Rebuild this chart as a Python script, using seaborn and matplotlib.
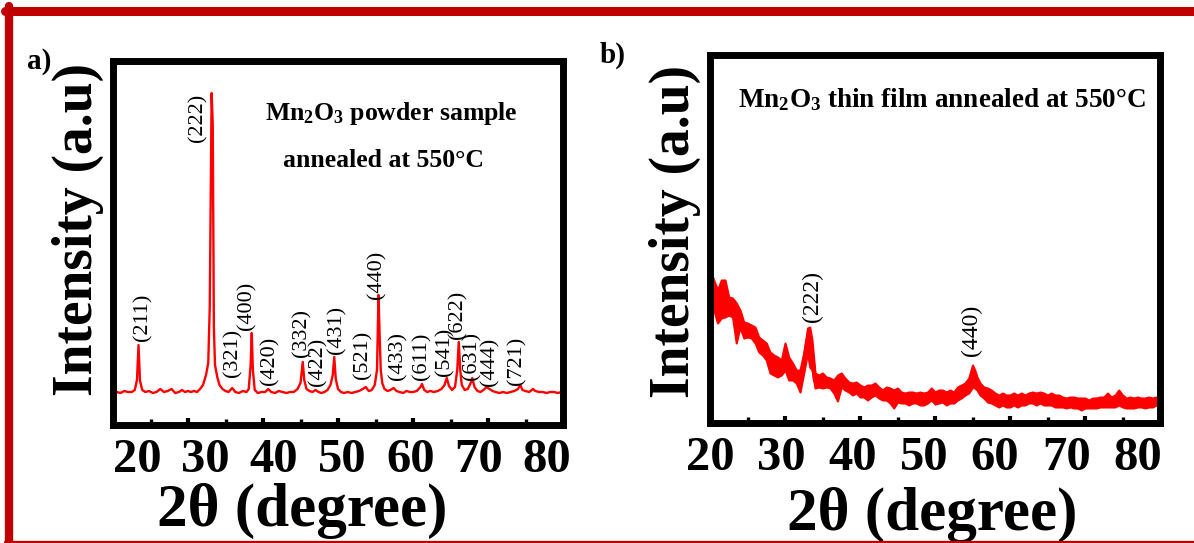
import matplotlib
matplotlib.use("Agg")
import matplotlib.pyplot as plt
from matplotlib.lines import Line2D
from matplotlib.ticker import FixedLocator
import seaborn as sns
import numpy as np

sns.set_style("white")
plt.rcParams["font.family"] = ["Liberation Serif", "DejaVu Serif"]
plt.rcParams["mathtext.fontset"] = "custom"
plt.rcParams["mathtext.rm"] = "Liberation Serif:bold"
plt.rcParams["mathtext.bf"] = "Liberation Serif:bold"
plt.rcParams["mathtext.it"] = "Liberation Serif:bold:italic"
plt.rcParams["text.color"] = "black"
plt.rcParams["axes.labelcolor"] = "black"
plt.rcParams["xtick.color"] = "black"
plt.rcParams["ytick.color"] = "black"

# --- a) Mn2O3 powder, 2theta (deg) vs intensity (a.u.) ---
two_theta_a = [20.0, 20.5, 21.0, 21.5, 22.0, 22.5, 22.9, 23.2, 23.4, 23.6, 23.9, 24.3, 24.8,
               25.3, 25.8, 26.3, 26.8, 27.3, 27.8, 28.3, 28.8, 29.2, 29.6, 30.0, 30.4, 30.8,
               31.2, 31.6, 32.0, 32.4, 32.7, 32.9, 33.05, 33.15, 33.3, 33.45, 33.6, 33.9, 34.2,
               34.6, 35.0, 35.4, 35.9, 36.3, 36.8, 37.3, 37.8, 38.1, 38.35, 38.5, 38.65, 38.9,
               39.3, 39.8, 40.3, 40.7, 41.1, 41.6, 42.1, 42.6, 43.1, 43.6, 44.1, 44.6, 45.0,
               45.3, 45.5, 45.8, 46.2, 46.6, 47.0, 47.4, 47.8, 48.2, 48.6, 49.0, 49.3, 49.5,
               49.7, 50.0, 50.4, 50.8, 51.3, 51.8, 52.3, 52.8, 53.3, 53.7, 54.1, 54.5, 54.9,
               55.2, 55.4, 55.55, 55.7, 55.9, 56.2, 56.6, 57.0, 57.4, 57.8, 58.2, 58.7, 59.1,
               59.6, 60.0, 60.5, 61.0, 61.2, 61.5, 61.9, 62.3, 62.8, 63.3, 63.8, 64.2, 64.5,
               64.8, 65.2, 65.6, 65.9, 66.1, 66.3, 66.5, 66.9, 67.3, 67.7, 67.9, 68.2, 68.6,
               69.0, 69.4, 69.8, 70.2, 70.6, 71.0, 71.5, 72.0, 72.5, 73.0, 73.5, 74.0, 74.3,
               74.6, 75.0, 75.5, 76.0, 76.3, 76.8, 77.3, 77.8, 78.3, 78.8, 79.3, 79.8, 80.0]
intensity_a = [31, 33, 32, 34, 33, 33, 35, 45, 80, 44, 35, 33, 34,
               32, 33, 36, 33, 34, 36, 32, 33, 35, 33, 34, 33, 34,
               33, 36, 40, 50, 62, 118, 250, 332, 300, 97, 60, 48, 40,
               36, 34, 33, 37, 33, 32, 34, 33, 36, 60, 92, 55, 35,
               32, 33, 33, 36, 33, 32, 34, 33, 32, 33, 33, 36, 42,
               63, 45, 36, 34, 33, 35, 33, 32, 33, 35, 40, 50, 68,
               46, 36, 33, 32, 33, 32, 33, 34, 36, 38, 34, 35, 40,
               55, 130, 90, 55, 42, 36, 34, 35, 37, 34, 33, 32, 34,
               33, 33, 34, 38, 41, 35, 33, 34, 33, 34, 36, 40, 47,
               39, 35, 38, 55, 83, 55, 40, 35, 36, 42, 47, 38, 34,
               33, 35, 38, 36, 34, 33, 32, 33, 32, 33, 34, 36, 40,
               35, 34, 33, 36, 34, 33, 33, 32, 33, 33, 32, 33, 33]

hkl_a = ["(211)", "(222)", "(321)", "(400)", "(420)", "(332)", "(422)", "(431)", "(521)",
         "(440)", "(433)", "(611)", "(541)", "(622)", "(631)", "(444)", "(721)"]
hkl_a_x = [24.0, 31.3, 36.0, 37.9, 40.9, 45.2, 47.3, 49.9, 53.3,
           55.2, 58.0, 61.2, 64.3, 66.0, 67.9, 70.3, 73.9]
hkl_a_y = [108, 307, 72, 119, 64, 92, 63, 95, 70,
           150, 69, 69, 73, 110, 69, 63, 64]

# --- b) Mn2O3 thin film: noisy trace given as upper / lower envelope ---
two_theta_b = [20.0, 20.5, 21.0, 21.5, 22.0, 22.5, 23.0, 23.5, 24.0, 24.5, 25.0, 25.5,
               26.0, 26.5, 27.0, 27.5, 28.0, 28.5, 29.0, 29.5, 30.0, 30.5, 31.0, 31.5,
               32.0, 32.5, 33.0, 33.3, 33.6, 34.0, 34.5, 35.0, 35.5, 36.0, 36.5, 37.0,
               37.5, 38.0, 38.5, 39.0, 39.5, 40.0, 40.5, 41.0, 41.5, 42.0, 42.5, 43.0,
               43.5, 44.0, 44.5, 45.0, 45.5, 46.0, 46.5, 47.0, 47.5, 48.0, 48.5, 49.0,
               49.5, 50.0, 50.5, 51.0, 51.5, 52.0, 52.5, 53.0, 53.5, 54.0, 54.5, 55.0,
               55.3, 55.6, 56.0, 56.5, 57.0, 57.5, 58.0, 58.5, 59.0, 59.5, 60.0, 60.5,
               61.0, 61.5, 62.0, 62.5, 63.0, 63.5, 64.0, 64.5, 65.0, 65.5, 66.0, 66.5,
               67.0, 67.5, 68.0, 68.5, 69.0, 69.5, 70.0, 70.5, 71.0, 71.5, 72.0, 72.5,
               73.0, 73.5, 74.0, 74.5, 75.0, 75.5, 76.0, 76.5, 77.0, 77.5, 78.0, 78.5,
               79.0, 79.5, 80.0]
upper_b = [153, 143, 133, 143, 143, 126, 125, 120, 113, 101, 100, 98,
           96, 86, 83, 80, 71, 68, 66, 63, 80, 66, 60, 53,
           53, 70, 95, 96, 83, 50, 48, 50, 46, 45, 43, 48,
           50, 45, 41, 40, 41, 38, 36, 38, 38, 40, 36, 33,
           36, 35, 33, 35, 31, 30, 31, 31, 30, 31, 30, 31,
           35, 31, 33, 33, 31, 33, 31, 36, 38, 40, 45, 58,
           53, 46, 40, 36, 35, 33, 30, 28, 30, 28, 28, 30,
           28, 30, 28, 30, 31, 30, 31, 30, 28, 30, 28, 28,
           26, 25, 26, 26, 25, 25, 25, 23, 25, 25, 26, 26,
           30, 26, 28, 33, 28, 25, 26, 25, 26, 25, 25, 26,
           25, 26, 25]
lower_b = [110, 113, 100, 105, 106, 108, 106, 80, 96, 85, 86, 85,
           80, 71, 68, 63, 50, 48, 46, 48, 53, 43, 43, 40,
           31, 50, 70, 56, 53, 35, 36, 35, 36, 35, 30, 22,
           36, 33, 31, 28, 30, 26, 26, 23, 26, 28, 25, 23,
           23, 20, 15, 21, 20, 20, 18, 20, 20, 18, 18, 20,
           23, 19, 20, 21, 18, 20, 20, 23, 25, 28, 30, 36,
           35, 33, 28, 25, 21, 20, 18, 16, 18, 16, 16, 18,
           16, 18, 18, 20, 20, 18, 20, 18, 18, 18, 16, 16,
           16, 15, 16, 15, 15, 13, 15, 15, 15, 15, 16, 16,
           16, 16, 16, 18, 16, 15, 15, 15, 16, 16, 15, 16,
           16, 18, 18]

hkl_b = ["(222)", "(440)"]
hkl_b_x = [33.6, 54.9]
hkl_b_y = [127, 93]

tick_values = [20, 30, 40, 50, 60, 70, 80]

W, H = 1194, 543
fig = plt.figure(figsize=(W / 100, H / 100), dpi=100)
ax_a = fig.add_axes([113 / W, (H - 425) / H, 450 / W, 364 / H])
ax_b = fig.add_axes([710 / W, (H - 423) / H, 450 / W, 368 / H])

red = "#ff0000"
sns.lineplot(x=two_theta_a, y=intensity_a, ax=ax_a, color=red, linewidth=1.7, estimator=None)

x_b = np.concatenate([two_theta_b, two_theta_b])
y_b = np.concatenate([upper_b, lower_b])
sns.lineplot(x=x_b, y=y_b, ax=ax_b, color=red, linewidth=3,
             errorbar=lambda v: (v.min(), v.max()),
             err_kws={"alpha": 1, "linewidth": 1.5, "edgecolor": red})


def style_panel(ax, ytop, a0, s, xlab_pos, ylab_pos):
    ax.set_xlim(20, 80)
    ax.set_ylim(0, ytop)
    ax.set_yticks([])
    for sp in ax.spines.values():
        sp.set_visible(True)
        sp.set_color("black")
        sp.set_linewidth(5)
        sp.set_capstyle("projecting")
    ax.xaxis.set_major_locator(FixedLocator([30, 40, 50, 60, 70]))
    ax.xaxis.set_minor_locator(FixedLocator([25, 35, 45, 55, 65, 75]))
    ax.tick_params(axis="x", which="major", direction="in", length=5, width=3,
                   color="black", bottom=True, top=False, labelbottom=False)
    ax.tick_params(axis="x", which="minor", direction="in", length=4.2, width=2.4,
                   color="black", bottom=True, top=False)
    # printed tick numbers sit slightly off the tick marks in the original
    sec = ax.secondary_xaxis("bottom", functions=(lambda d: 20 + (d - a0) / s,
                                                  lambda v: a0 + (v - 20) * s))
    sec.set_xticks(tick_values, labels=[str(t) for t in tick_values],
                   fontsize=35, fontweight="bold", color="black")
    sec.tick_params(length=0, pad=9)
    sec.spines["bottom"].set_visible(False)
    ax.set_xlabel("2θ (degree)", fontsize=44, fontweight="bold")
    ax.xaxis.set_label_coords(*xlab_pos)
    ax.set_ylabel("Intensity (a.u)", fontsize=40, fontweight="bold")
    ax.yaxis.set_label_coords(*ylab_pos)


style_panel(ax_a, 364, 23.2, 0.911, (0.42, -0.16), (-0.02, 0.536))
style_panel(ax_b, 368, 20.0, 0.95, (0.493, -0.175), (-0.02, 0.52))

for lab, x, y in zip(hkl_a, hkl_a_x, hkl_a_y):
    ax_a.text(x, y, lab, rotation=90, ha="center", va="center", fontsize=16)
for lab, x, y in zip(hkl_b, hkl_b_x, hkl_b_y):
    ax_b.text(x, y, lab, rotation=90, ha="center", va="center", fontsize=17)

ax_a.text(0.618, 0.857, "Mn$_2$O$_3$ powder sample", transform=ax_a.transAxes,
          ha="center", va="center", fontsize=18.5, fontweight="bold")
ax_a.text(0.602, 0.728, "annealed at 550°C", transform=ax_a.transAxes,
          ha="center", va="center", fontsize=18.5, fontweight="bold")
ax_b.text(0.516, 0.878, "Mn$_2$O$_3$ thin film annealed at 550°C", transform=ax_b.transAxes,
          ha="center", va="center", fontsize=19.5, fontweight="bold")

fig.text(27 / W, 1 - 48 / H, "a)", fontsize=21, fontweight="bold", ha="left", va="top")
fig.text(600 / W, 1 - 42 / H, "b)", fontsize=21, fontweight="bold", ha="left", va="top")

# red frame round the whole figure
dark_red = "#c00000"
fig.add_artist(Line2D([5 / W, 1], [1 - 10.5 / H, 1 - 10.5 / H], color=dark_red, lw=6.5))
fig.add_artist(Line2D([9 / W, 9 / W], [1 - 6 / H, 1 - 542 / H], color=dark_red, lw=6))
fig.add_artist(Line2D([5 / W, 1], [1 - 541.5 / H, 1 - 541.5 / H], color=dark_red, lw=1.6))

fig.savefig("out.png", dpi=100)
